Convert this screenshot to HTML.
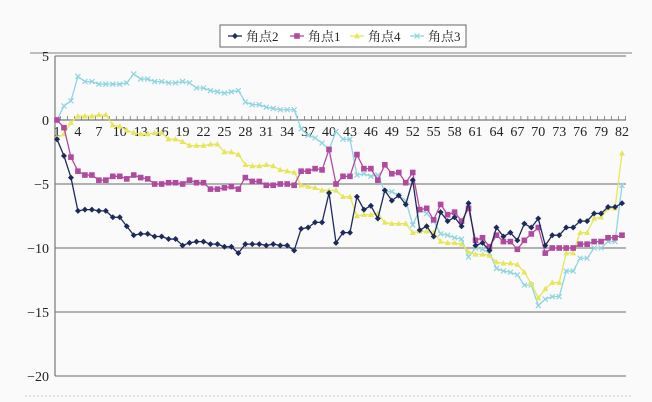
<!DOCTYPE html>
<html><head><meta charset="utf-8"><style>
body{margin:0;background:#fafafa;}
svg{display:block;font-family:"Liberation Serif","Noto Serif CJK SC",serif;}
</style></head><body>
<svg id="chart" width="652" height="402" viewBox="0 0 652 402" xmlns="http://www.w3.org/2000/svg">
<rect width="652" height="402" fill="#fafafa"/>
<g id="legend">
<rect x="220" y="25" width="246" height="22" fill="#fff" stroke="#666" stroke-width="1"/>
</g>
<line x1="30" y1="53" x2="632" y2="53" stroke="#aaa" stroke-width="1.5"/>
<line x1="25" y1="396" x2="632" y2="396" stroke="#ccc" stroke-dasharray="2,2"/>
<g id="grid"></g><g id="axes"></g><g id="series"></g>
</svg>
<script>
const categories = Array.from({length:82},(_,i)=>i+1);
const yTicks = [5,0,-5,-10,-15,-20];
const seriesNames = ["角点2","角点1","角点4","角点3"];
const s2 = [-1.5,-2.8,-4.5,-7.1,-7.0,-7.0,-7.1,-7.1,-7.6,-7.6,-8.3,-9.0,-8.9,-8.9,-9.1,-9.1,-9.3,-9.3,-9.8,-9.6,-9.5,-9.5,-9.7,-9.7,-9.9,-9.9,-10.4,-9.7,-9.7,-9.7,-9.8,-9.7,-9.8,-9.8,-10.2,-8.5,-8.4,-8.0,-8.0,-5.7,-9.6,-8.8,-8.8,-6.0,-7.0,-6.7,-7.7,-5.5,-6.3,-5.9,-6.6,-4.7,-8.6,-8.3,-9.1,-7.2,-7.9,-7.6,-8.3,-6.5,-9.8,-9.6,-10.2,-8.4,-9.1,-8.8,-9.4,-8.1,-8.4,-7.7,-9.8,-9.0,-9.0,-8.4,-8.4,-7.9,-7.9,-7.3,-7.3,-6.8,-6.8,-6.5];
const s1 = [0,-0.6,-2.9,-4.0,-4.3,-4.3,-4.7,-4.7,-4.4,-4.4,-4.6,-4.3,-4.5,-4.6,-5.0,-5.0,-4.9,-4.9,-5.0,-4.7,-4.9,-4.9,-5.4,-5.4,-5.3,-5.2,-5.4,-4.5,-4.8,-4.8,-5.1,-5.1,-5.0,-5.0,-5.1,-4.0,-4.0,-3.8,-3.9,-2.3,-5.0,-4.4,-4.4,-2.7,-3.8,-3.8,-4.7,-3.5,-4.2,-4.1,-4.9,-4.1,-7.0,-6.9,-7.8,-6.6,-7.4,-7.2,-7.9,-6.9,-9.4,-9.2,-9.9,-9.0,-9.5,-9.5,-10.1,-9.4,-8.9,-8.4,-10.4,-10.0,-10.0,-10.0,-10.0,-9.7,-9.7,-9.5,-9.5,-9.2,-9.2,-9.0];
const s4 = [-1.4,-1.1,-0.2,0.3,0.3,0.3,0.4,0.4,-0.4,-0.5,-0.8,-1.0,-1.1,-1.1,-1.0,-1.0,-1.5,-1.5,-1.7,-2.0,-2.0,-2.0,-1.9,-1.9,-2.5,-2.5,-2.7,-3.5,-3.6,-3.6,-3.5,-3.6,-3.9,-4.0,-4.1,-5.1,-5.2,-5.3,-5.5,-5.5,-5.5,-6.0,-6.0,-7.5,-7.4,-7.4,-7.3,-8.0,-8.1,-8.1,-8.1,-8.8,-8.7,-8.7,-8.8,-9.5,-9.6,-9.6,-9.7,-10.3,-10.5,-10.5,-10.6,-11.1,-11.2,-11.2,-11.3,-11.9,-12.8,-13.9,-13.2,-12.7,-12.7,-10.4,-10.4,-8.8,-8.8,-7.7,-7.6,-6.9,-6.9,-2.6];
const s3 = [0,1.1,1.5,3.4,3.0,3.0,2.8,2.8,2.8,2.8,2.9,3.6,3.2,3.2,3.0,3.0,2.9,2.9,3.0,2.9,2.5,2.5,2.3,2.2,2.1,2.2,2.3,1.4,1.2,1.2,1.0,0.9,0.8,0.8,0.8,-0.7,-1.2,-1.4,-1.8,-2.3,-0.9,-1.5,-1.5,-4.3,-4.2,-4.4,-4.3,-5.6,-5.6,-5.9,-6.3,-8.2,-7.0,-7.3,-7.9,-8.9,-9.0,-9.2,-9.3,-10.7,-10.0,-10.1,-10.4,-11.6,-11.8,-11.9,-12.1,-12.9,-12.9,-14.5,-14.0,-13.8,-13.8,-11.8,-11.8,-10.8,-10.8,-10.0,-10.0,-9.5,-9.5,-5.1];
const NS="http://www.w3.org/2000/svg";
const X0=57,X1=622,Y0=120,PU=12.8;
function xs(i){return X0+(i-1)*(X1-X0)/81;}
function ys(v){return Y0-v*PU;}
function mk(tag,parent,attrs){const e=document.createElementNS(NS,tag);for(const k in attrs)e.setAttribute(k,attrs[k]);parent.appendChild(e);return e;}
const grid=document.getElementById('grid'),axes=document.getElementById('axes'),ser=document.getElementById('series'),leg=document.getElementById('legend');
yTicks.forEach(t=>{
  if(t!==0){const l=mk('line',grid,{x1:55,x2:626,y1:ys(t),y2:ys(t),stroke:'#888','stroke-width':1.3});
  
  }
  const tx=mk('text',axes,{x:49,y:ys(t)+5,'text-anchor':'end','font-size':14,fill:'#222'});
  tx.textContent=t<0?'\u2212'+(-t):String(t);
  
  
});
const ya=mk('line',axes,{x1:55,x2:55,y1:ys(5),y2:ys(-20),stroke:'#777','stroke-width':1.2});


const xa=mk('line',axes,{x1:55,x2:626,y1:Y0,y2:Y0,stroke:'#777','stroke-width':1.2});


categories.forEach(c=>{
  const tk=mk('line',axes,{x1:xs(c)+3.5,x2:xs(c)+3.5,y1:Y0-4,y2:Y0,stroke:'#777','stroke-width':0.8});
  
  
  if((c-1)%3===0){const tx=mk('text',axes,{x:xs(c),y:Y0+16,'text-anchor':'middle','font-size':14,fill:'#222'});
  tx.textContent=c;
  
  }
});
const colors=['#1f2a5c','#b04a9e','#e6e65a','#8fd5e0'];
const shapes=['diamond','square','triangle','x'];
function marker(g,shape,x,y,col){
  let e;
  if(shape==='diamond')e=mk('path',g,{d:`M${x} ${y-3}L${x+3} ${y}L${x} ${y+3}L${x-3} ${y}Z`,fill:col});
  else if(shape==='square')e=mk('rect',g,{x:x-2.8,y:y-2.8,width:5.6,height:5.6,fill:col});
  else if(shape==='triangle')e=mk('path',g,{d:`M${x} ${y-3.2}L${x+3} ${y+2.2}L${x-3} ${y+2.2}Z`,fill:col});
  else e=mk('path',g,{d:`M${x-2.5} ${y-2.5}L${x+2.5} ${y+2.5}M${x+2.5} ${y-2.5}L${x-2.5} ${y+2.5}`,stroke:col,'stroke-width':1.2});
  return e;
}
const order=[s3,s4,s1,s2],oi=[3,2,1,0];
order.forEach((arr,k)=>{
  const i=oi[k];
  const g=mk('g',ser,{});
  
  
  const p=mk('polyline',g,{points:arr.map((v,j)=>xs(categories[j])+','+ys(v)).join(' '),fill:'none',stroke:colors[i],'stroke-width':1.3});
  
  
  arr.forEach((v,j)=>{const m=marker(g,shapes[i],xs(categories[j]),ys(v),colors[i]);
  
  });
});
const lx=[228,290,350,410];
seriesNames.forEach((n,i)=>{
  const g=mk('g',leg,{});
  
  
  mk('line',g,{x1:lx[i],x2:lx[i]+14,y1:36,y2:36,stroke:colors[i],'stroke-width':1.3});
  marker(g,shapes[i],lx[i]+7,36,colors[i]);
  const t=mk('text',g,{x:lx[i]+18,y:41,'font-size':13,fill:'#222'});
  t.textContent=n;
});
</script>
</body></html>
